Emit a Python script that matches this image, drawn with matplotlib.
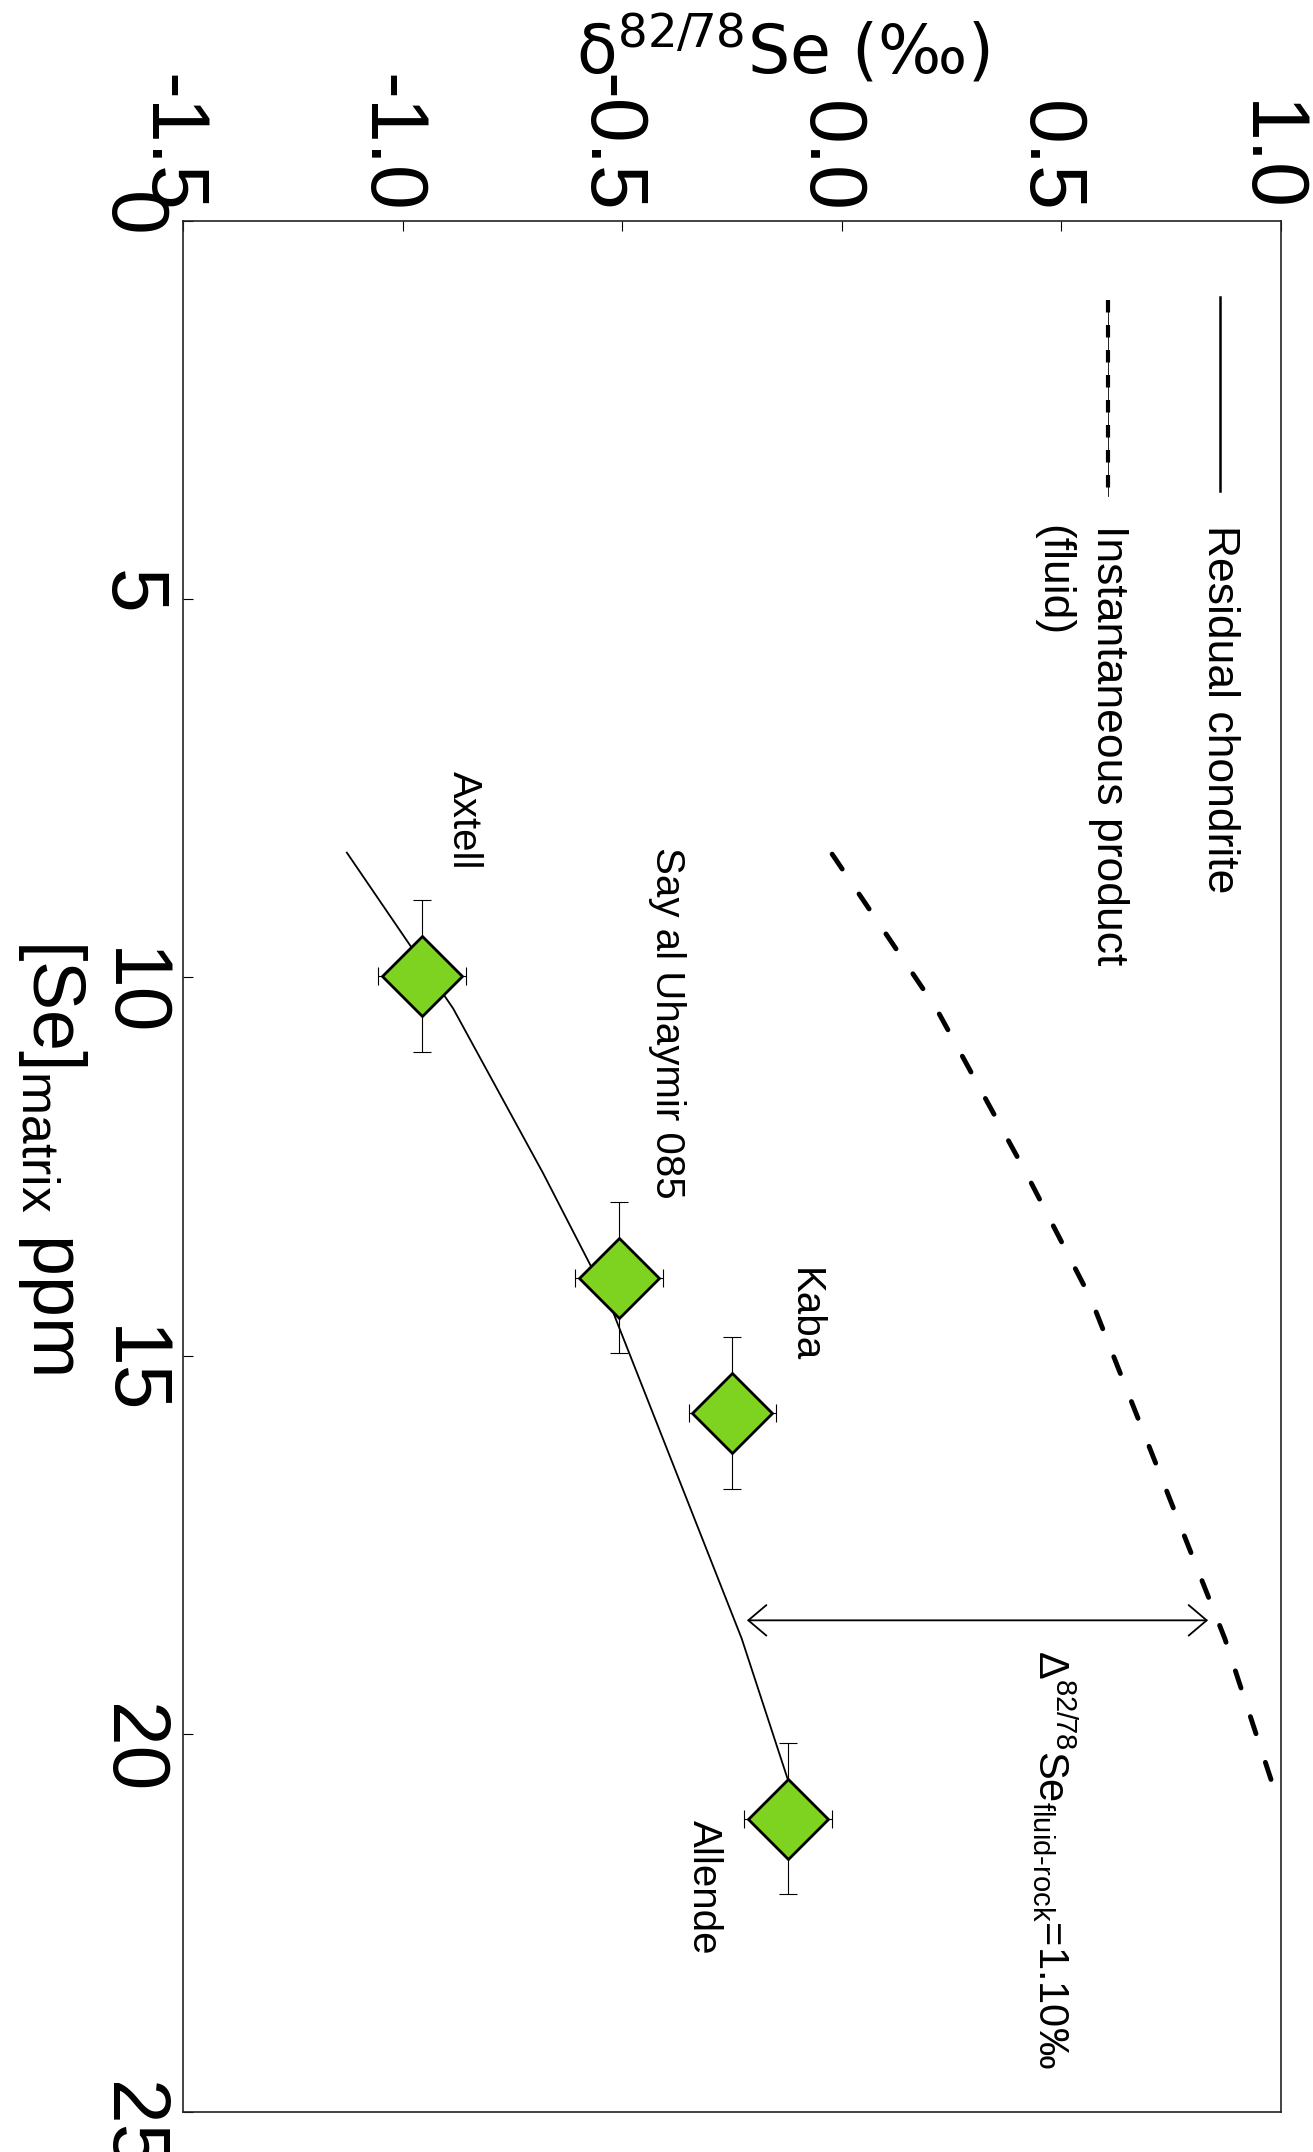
import matplotlib
matplotlib.use('Agg')
import matplotlib.pyplot as plt
from matplotlib.transforms import ScaledTranslation

plt.rcParams['font.family'] = ['Liberation Sans', 'DejaVu Sans']
plt.rcParams['mathtext.fontset'] = 'custom'
plt.rcParams['mathtext.rm'] = 'Liberation Sans'
plt.rcParams['mathtext.it'] = 'Liberation Sans:italic'
plt.rcParams['mathtext.bf'] = 'Liberation Sans:bold'
plt.rcParams['axes.unicode_minus'] = False

# ---------------- data ----------------
# Residual chondrite model curve ([Se] ppm, delta82/78Se permil)
se_residual = [8.35, 10.41, 12.59, 14.26, 18.74, 20.62]
d_residual = [-1.127, -0.885, -0.680, -0.532, -0.228, -0.122]
# Instantaneous product (fluid) curve
se_fluid = [8.37, 10.41, 12.59, 14.26, 18.74, 20.83]
d_fluid = [-0.022, 0.215, 0.420, 0.568, 0.872, 0.990]
# Meteorite samples
sample_names = ['Axtell', 'Say al Uhaymir 085', 'Kaba', 'Allende']
sample_se = [9.98, 13.97, 15.76, 21.12]
sample_d = [-0.956, -0.507, -0.249, -0.122]
sample_se_err = [1.0, 1.0, 1.0, 1.0]
sample_d_err = [0.10, 0.10, 0.10, 0.10]
# Fractionation arrow
arrow_se = 18.50
arrow_d_rock = -0.216
arrow_d_fluid = 0.834
# Ticks
d_ticks = [-1.5, -1.0, -0.5, 0.0, 0.5, 1.0]
d_ticklabels = ['-1.5', '-1.0', '-0.5', '0.0', '0.5', '1.0']
se_ticks = [0, 5, 10, 15, 20, 25]
se_ticklabels = ['0', '5', '10', '15', '20', '25']

W, H = 1313, 2152
fig = plt.figure(figsize=(W / 100, H / 100), dpi=100)
ax = fig.add_axes([183 / W, 1 - 2112 / H, 1098 / W, (2112 - 221) / H])
ax.set_xlim(-1.5, 1.0)
ax.set_ylim(25, 0)

GREEN = '#7ED321'
TICKFONT = ['Liberation Sans Narrow', 'Liberation Sans', 'DejaVu Sans']

# curves
ax.plot(d_residual, se_residual, color='black', lw=1.3, zorder=2)
ax.plot(d_fluid, se_fluid, color='black', lw=3.5, ls=(0, (3.7, 6.2)),
        dash_capstyle='round', zorder=2)

# samples
ax.errorbar(sample_d, sample_se, xerr=sample_d_err, yerr=sample_se_err,
            fmt='none', ecolor='black', elinewidth=0.8, capsize=6.5,
            capthick=0.8, zorder=3)
ax.plot(sample_d, sample_se, ls='none', marker='D', ms=40.7,
        mfc=GREEN, mec='black', mew=2.0, zorder=4)

# sample labels (rotated like the rest of the figure)
label_pos = [(-0.885, 7.27), (-0.423, 8.28), (-0.109, 13.84), (-0.339, 21.14)]
for name, (lx, ly) in zip(sample_names, label_pos):
    ax.text(lx, ly, name, rotation=-90, rotation_mode='anchor',
            ha='left', va='baseline', fontsize=29, zorder=5)

# arrow + annotation
ax.annotate('', xy=(arrow_d_rock, arrow_se), xytext=(arrow_d_fluid, arrow_se),
            arrowprops=dict(arrowstyle='<->,head_length=0.65,head_width=0.55',
                            mutation_scale=20, lw=1.3, color='black',
                            shrinkA=0, shrinkB=0), zorder=5)
ax.text(0.447, 18.89, 'Δ$^{82/78}$Se$_{\\mathrm{fluid\u2010rock}}$=1.10‰',
        rotation=-90, rotation_mode='anchor', ha='left', va='baseline',
        fontsize=30, zorder=5)

# legend (manual, rotated)
ax.plot([0.862, 0.862], [1.0, 3.57], color='black', lw=1.8, zorder=5)
ax.plot([0.607, 0.607], [1.05, 3.64], color='black', lw=0.6, zorder=5)
ax.plot([0.607, 0.607], [1.05, 3.64], color='black', lw=3.0,
        ls=(0, (3, 3)), dash_capstyle='butt', zorder=5)
ax.text(0.834, 4.02, 'Residual chondrite', rotation=-90, rotation_mode='anchor',
        ha='left', va='baseline', fontsize=32, zorder=5)
ax.text(0.581, 4.02, 'Instantaneous product', rotation=-90, rotation_mode='anchor',
        ha='left', va='baseline', fontsize=32, zorder=5)
ax.text(0.454, 4.02, '(fluid)', rotation=-90, rotation_mode='anchor',
        ha='left', va='baseline', fontsize=32, zorder=5)

# axes styling
ax.xaxis.tick_top()
ax.set_xticks(d_ticks)
ax.set_xticklabels(d_ticklabels, rotation=-90, fontsize=58, family=TICKFONT)
ax.set_yticks(se_ticks)
ax.set_yticklabels(se_ticklabels, rotation=-90, fontsize=58, family=TICKFONT)
ax.tick_params(axis='both', direction='in', length=7, width=0.8)
ax.tick_params(axis='x', pad=6)
ax.tick_params(axis='y', pad=11)
for sp in ax.spines.values():
    sp.set_linewidth(1.2)
    sp.set_color('#222222')

# shift top tick labels slightly left, as in the original
shift = ScaledTranslation(-14 / 100, 0, fig.dpi_scale_trans)
for t in ax.xaxis.get_major_ticks():
    t.label2.set_transform(t.label2.get_transform() + shift)

# axis titles (placed as in the rotated original)
fig.text(783 / W, 1 - 74 / H, 'δ$^{82/78}$Se (‰)', ha='center', va='baseline',
         fontsize=48, family=['DejaVu Sans'], math_fontfamily='dejavusans')
fig.text(33 / W, 1 - 1156 / H, '[Se]$_{\\mathrm{matrix}}$ ppm', rotation=-90,
         rotation_mode='anchor', ha='center', va='baseline', fontsize=53)

fig.savefig('out.png', dpi=100)
